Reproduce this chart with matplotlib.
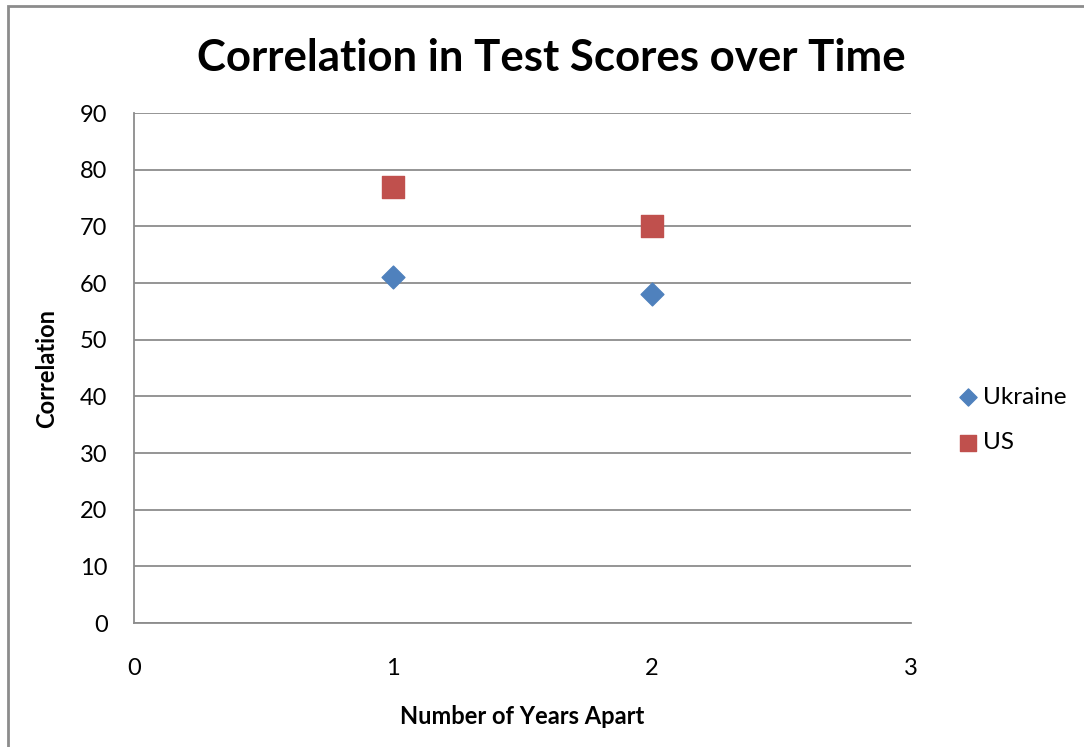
import matplotlib.pyplot as plt
from matplotlib.patches import Rectangle

# data
years_apart = [1, 2]
ukraine = [61, 58]
us = [77, 70]
x_ticks = [0, 1, 2, 3]
y_ticks = list(range(0, 100, 10))

plt.rcParams['font.family'] = ['Lato', 'DejaVu Sans']

W, H = 1084, 747
fig = plt.figure(figsize=(W / 100, H / 100), dpi=100)

# outer chart border (only left and top edges visible)
fig.patches.append(Rectangle((8 / W, -0.05), 1.2, 1 - 6 / H + 0.05,
                             transform=fig.transFigure, fill=False,
                             edgecolor='#8c8c8c', linewidth=2))

ax = fig.add_axes([134 / W, 1 - 623 / H, (911 - 134) / W, (623 - 113) / H])

ax.scatter(years_apart, ukraine, marker='D', s=135, color='#4F81BD',
           label='Ukraine', zorder=3)
ax.scatter(years_apart, us, marker='s', s=260, color='#C0504D',
           label='US', zorder=3)

ax.set_xlim(0, 3)
ax.set_ylim(0, 90)
ax.set_xticks(x_ticks)
ax.set_yticks(y_ticks)
ax.tick_params(length=0, labelsize=17)
ax.tick_params(axis='x', pad=25)
ax.tick_params(axis='y', pad=19)
ax.yaxis.grid(True, color='#8c8c8c', linewidth=1.3)
ax.set_axisbelow(True)
for side in ['top', 'right']:
    ax.spines[side].set_visible(False)
for side in ['left', 'bottom']:
    ax.spines[side].set_color('#8c8c8c')
    ax.spines[side].set_linewidth(1.3)

ax.set_xlabel('Number of Years Apart', fontsize=17, fontweight='bold', labelpad=19)
ax.set_ylabel('Correlation', fontsize=17, fontweight='bold', labelpad=16)

fig.text(551 / W, 1 - 58 / H, 'Correlation in Test Scores over Time',
         fontsize=31.5, fontweight='bold', ha='center', va='center')

ax.legend(loc='center left', bbox_to_anchor=(944 / W, 1 - 420 / H),
          bbox_transform=fig.transFigure, frameon=False, fontsize=17.5,
          handletextpad=0.1, labelspacing=1.0, borderpad=0, handlelength=1.0,
          markerscale=0.75)

fig.savefig('out.png', dpi=100)
